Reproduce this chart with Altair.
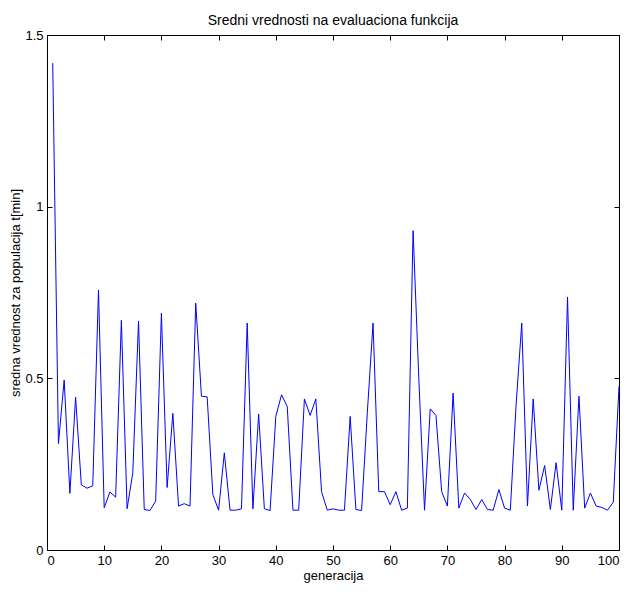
import altair as alt
import pandas as pd

generations = list(range(1, 101))
mean_values = [
    1.418, 0.31, 0.495, 0.165, 0.445, 0.19, 0.18, 0.187, 0.757, 0.123,
    0.169, 0.154, 0.669, 0.12, 0.225, 0.667, 0.118, 0.115, 0.143, 0.69,
    0.182, 0.398, 0.128, 0.135, 0.128, 0.719, 0.448, 0.446, 0.161, 0.116,
    0.283, 0.116, 0.116, 0.12, 0.661, 0.12, 0.396, 0.12, 0.115, 0.389,
    0.452, 0.418, 0.116, 0.116, 0.44, 0.392, 0.44, 0.17, 0.116, 0.12,
    0.116, 0.116, 0.389, 0.118, 0.115, 0.40, 0.661, 0.17, 0.17, 0.132,
    0.17, 0.116, 0.122, 0.93, 0.5, 0.116, 0.411, 0.392, 0.17, 0.128,
    0.457, 0.122, 0.166, 0.147, 0.118, 0.147, 0.118, 0.116, 0.176, 0.122,
    0.116, 0.42, 0.661, 0.128, 0.44, 0.174, 0.246, 0.118, 0.254, 0.116,
    0.737, 0.116, 0.448, 0.122, 0.166, 0.128, 0.124, 0.116, 0.139, 0.477,
]
x_ticks = [0, 10, 20, 30, 40, 50, 60, 70, 80, 90, 100]
y_ticks = [0, 0.5, 1, 1.5]

df = pd.DataFrame({"gen": generations, "val": mean_values})
FONT = "Liberation Sans"

tick_style = dict(domain=False, grid=False, offset=-5, tickSize=5, tickColor="black",
                  tickWidth=1)
text_style = dict(labelFont=FONT, labelFontSize=13, labelColor="black",
                  titleFont=FONT, titleFontSize=13, titleColor="black",
                  titleFontWeight="normal")

xs = alt.Scale(domain=[0, 100], nice=False, zero=False)
ys = alt.Scale(domain=[0, 1.5], nice=False, zero=False)

main = alt.Chart(df).mark_line(color="#0000ff", strokeWidth=1).encode(
    x=alt.X("gen:Q", scale=xs,
            axis=alt.Axis(orient="bottom", values=x_ticks, title="generacija",
                          labelPadding=4, titlePadding=2, **tick_style, **text_style)),
    y=alt.Y("val:Q", scale=ys,
            axis=alt.Axis(orient="left", values=y_ticks,
                          title="sredna vrednost za populacija t[min]",
                          labelPadding=4, titlePadding=2,
                          labelExpr="datum.value == 0 ? '0' : format(datum.value, '.1~f')",
                          **tick_style, **text_style)),
)

frame = alt.Chart(df).mark_line(opacity=0).encode(
    x=alt.X("gen:Q", scale=xs,
            axis=alt.Axis(orient="top", values=x_ticks, labels=False, title=None,
                          **tick_style)),
    y=alt.Y("val:Q", scale=ys,
            axis=alt.Axis(orient="right", values=y_ticks, labels=False, title=None,
                          **tick_style)),
)

chart = alt.layer(main, frame).properties(
    width=572, height=515,
    autosize=alt.AutoSizeParams(type="none"),
    padding={"left": 39, "top": 27, "right": 3, "bottom": 34},
    title=alt.TitleParams("Sredni vrednosti na evaluaciona funkcija", font=FONT, fontSize=14,
                          fontWeight="normal", color="black", offset=1, anchor="middle"),
    background="white",
).configure_view(stroke="black", strokeWidth=1)

chart.save("out.html", embed_options={"renderer": "svg", "actions": False})
